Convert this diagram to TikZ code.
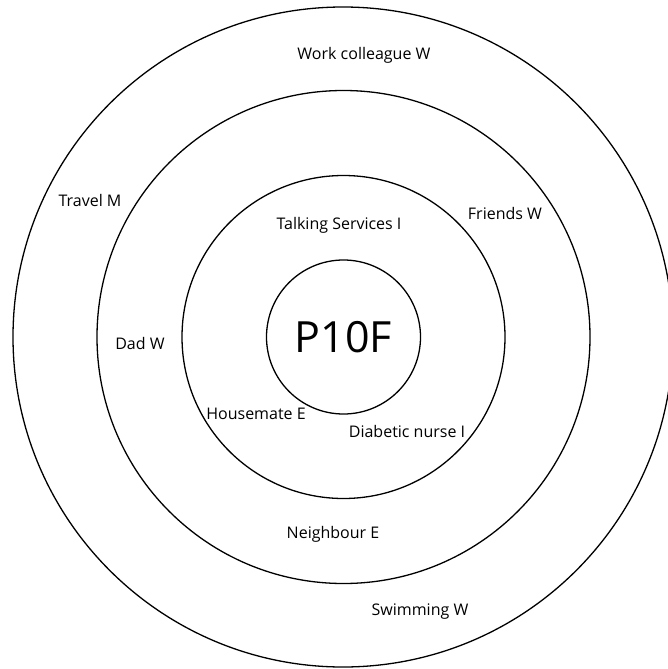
\documentclass[tikz,border=0pt]{standalone}
\usepackage{fontspec}
\setmainfont{Open Sans}
\begin{document}
\begin{tikzpicture}[
  x=1pt, y=-1pt,
  ring/.style={circle, draw=black, line width=1.3pt, inner sep=0pt},
  lbl/.style={font=\fontsize{16}{18}\selectfont, inner sep=1pt},
  centre/.style={font=\fontsize{43}{46}\selectfont},
]
\useasboundingbox (0,0) rectangle (667,669);

\node[ring, minimum size=660pt] (outer) at (343,337) {};
\node[ring, minimum size=493pt] (social) at (343.5,337) {};
\node[ring, minimum size=323pt] (close) at (343.5,337) {};
\node[ring, minimum size=154pt, centre] (self) at (343.5,337) {P10F};

\node[lbl] (work) at (364,55) {Work colleague W};
\node[lbl] (travel) at (90,200) {Travel M};
\node[lbl] (friends) at (505,213) {Friends W};
\node[lbl] (talking) at (339,225) {Talking Services I};
\node[lbl] (dad) at (140,343) {Dad W};
\node[lbl] (housemate) at (256,414) {Housemate E};
\node[lbl] (nurse) at (407,431) {Diabetic nurse I};
\node[lbl] (neighbour) at (333,534) {Neighbour E};
\node[lbl] (swimming) at (420,612) {Swimming W};

\end{tikzpicture}
\end{document}
